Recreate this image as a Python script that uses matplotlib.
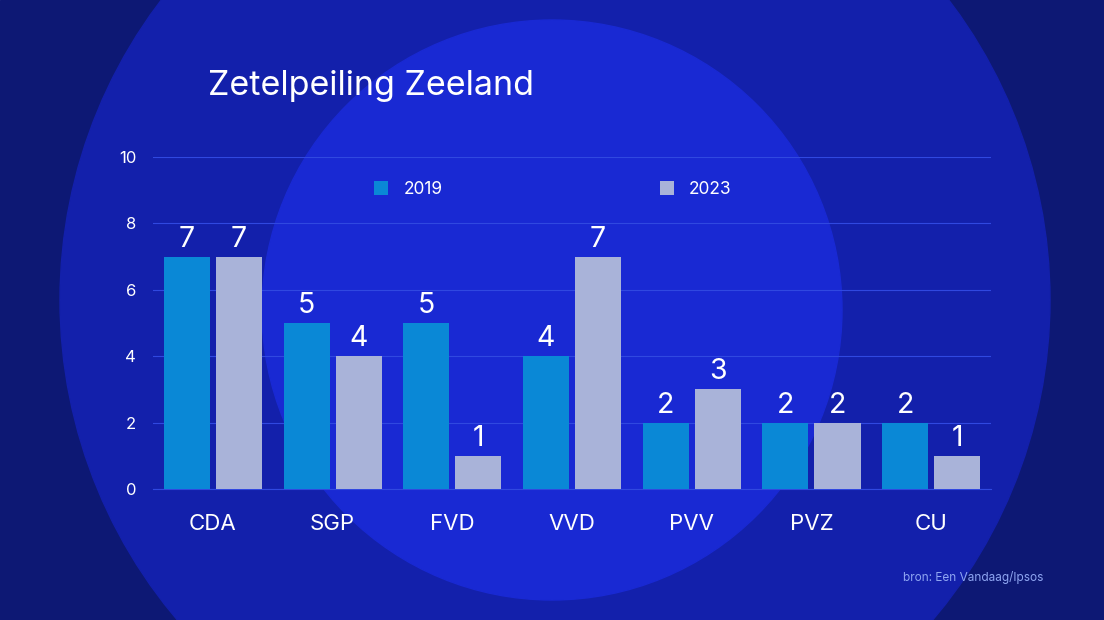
import matplotlib.pyplot as plt
import numpy as np
from matplotlib.patches import Circle, Rectangle

# data
partijen = ["CDA", "SGP", "FVD", "VVD", "PVV", "PVZ", "CU"]
zetels_2019 = [7, 5, 5, 4, 2, 2, 2]
zetels_2023 = [7, 4, 1, 7, 3, 2, 1]
jaren = ["2019", "2023"]

kleur_2019 = "#0a88d6"
kleur_2023 = "#a9b3d9"

plt.rcParams["font.family"] = ["Inter", "DejaVu Sans"]

fig = plt.figure(figsize=(11.04, 6.2), dpi=100)

# achtergrond: concentrische cirkels
bg = fig.add_axes([0, 0, 1, 1])
bg.set_xlim(0, 1104)
bg.set_ylim(620, 0)
bg.axis("off")
bg.add_patch(Rectangle((0, 0), 1104, 620, color="#0d1874", zorder=0))
bg.add_patch(Circle((555, 300), 495, color="#1320ab", zorder=1))
bg.add_patch(Circle((552, 310), 290, color="#1929d3", zorder=2))

# grafiek
ax = fig.add_axes([0.1386, 0.2113, 0.7591, 0.5355])
ax.set_facecolor("none")
x = np.arange(len(partijen))
breedte = 0.385
b1 = ax.bar(x - breedte / 2 - 0.025, zetels_2019, breedte, color=kleur_2019, label=jaren[0], zorder=3)
b2 = ax.bar(x + breedte / 2 + 0.025, zetels_2023, breedte, color=kleur_2023, label=jaren[1], zorder=3)

for bars in (b1, b2):
    for b in bars:
        ax.text(b.get_x() + b.get_width() / 2, b.get_height() + 0.12, str(int(b.get_height())),
                ha="center", va="bottom", color="white", fontsize=20.5, zorder=4)

ax.set_xlim(-0.5, len(partijen) - 0.5)
ax.set_ylim(0, 10)
ax.set_yticks([0, 2, 4, 6, 8, 10])
ax.set_xticks(x)
ax.set_xticklabels(partijen)
ax.tick_params(axis="x", length=0, pad=18, labelsize=16, labelcolor="white")
ax.tick_params(axis="y", length=0, pad=12, labelsize=12, labelcolor="white")
ax.grid(axis="y", color="#3048e0", linewidth=0.8, zorder=0)
for s in ["top", "right", "left"]:
    ax.spines[s].set_visible(False)
ax.spines["bottom"].set_color("#3048e0")
ax.spines["bottom"].set_linewidth(0.8)

leg = ax.legend(loc="upper left", bbox_to_anchor=(0.245, 0.975), ncol=2, frameon=False,
                fontsize=12.5, labelcolor="white", handlelength=0.8, handleheight=0.8,
                columnspacing=12.5, handletextpad=0.9)

fig.text(208 / 1104, 1 - 86 / 620, "Zetelpeiling Zeeland", color="white", fontsize=24.5,
         ha="left", va="center")
fig.text(1043 / 1104, 1 - 577 / 620, "bron: Een Vandaag/Ipsos", color="#8fa6f2", fontsize=8.5,
         ha="right", va="center")

fig.savefig("out.png", dpi=100)
